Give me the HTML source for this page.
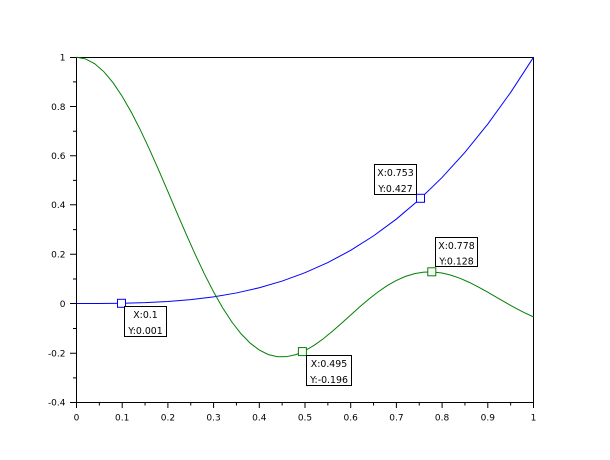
<!DOCTYPE html>
<html><head><meta charset="utf-8"><style>
html,body{margin:0;padding:0;background:#fff;}
svg{display:block;}
text{font-family:"DejaVu Sans","Liberation Sans",sans-serif;font-size:9px;fill:#000;}
.dt{font-size:9.4px;}
</style></head><body>
<svg width="610" height="460" viewBox="0 0 610 460" xmlns="http://www.w3.org/2000/svg">
<rect width="610" height="460" fill="#fff"/>
<!-- frame -->
<path d="M76.5 57.5 H533.5 V402.5 M76.5 57.5 V402.5 H533.5" fill="none" stroke="#000" stroke-width="1"/>
<!-- y ticks -->
<g stroke="#000" stroke-width="1">
<path d="M70 402.5H76.5M70 353.2H76.5M70 303.5H76.5M70 254.3H76.5M70 204.8H76.5M70 155.8H76.5M70 106.5H76.5M70 57.5H76.5"/>
<path d="M73 377.9H76.5M73 328.5H76.5M73 279H76.5M73 229.6H76.5M73 180.4H76.5M73 131.2H76.5M73 81.9H76.5"/>
<path d="M76.5 402.5V408M122.2 402.5V408M167.9 402.5V408M213.6 402.5V408M259.3 402.5V408M305 402.5V408M350.7 402.5V408M396.4 402.5V408M442.1 402.5V408M487.8 402.5V408M533.5 402.5V408"/>
<path d="M99.35 402.5V405.5M145.05 402.5V405.5M190.75 402.5V405.5M236.45 402.5V405.5M282.15 402.5V405.5M327.85 402.5V405.5M373.55 402.5V405.5M419.25 402.5V405.5M464.95 402.5V405.5M510.65 402.5V405.5"/>
</g>
<!-- y labels -->
<g text-anchor="end">
<text x="65.5" y="405.6">-0.4</text>
<text x="65.5" y="356.3">-0.2</text>
<text x="65.5" y="306.8">0</text>
<text x="65.5" y="257.5">0.2</text>
<text x="65.5" y="208.1">0.4</text>
<text x="65.5" y="159">0.6</text>
<text x="65.5" y="109.8">0.8</text>
<text x="65.5" y="60.7">1</text>
</g>
<!-- x labels -->
<g text-anchor="middle">
<text x="76.5" y="420.5">0</text>
<text x="122.2" y="420.5">0.1</text>
<text x="167.9" y="420.5">0.2</text>
<text x="213.6" y="420.5">0.3</text>
<text x="259.3" y="420.5">0.4</text>
<text x="305" y="420.5">0.5</text>
<text x="350.7" y="420.5">0.6</text>
<text x="396.4" y="420.5">0.7</text>
<text x="442.1" y="420.5">0.8</text>
<text x="487.8" y="420.5">0.9</text>
<text x="533.5" y="420.5">1</text>
</g>
<!-- blue x^3 -->
<polyline fill="none" stroke="#0000ff" stroke-width="1" points="76.5,303.5 99.35,303.47 122.2,303.25 145.05,302.67 167.9,301.53 190.75,299.65 213.6,296.85 236.45,292.94 259.3,287.74 282.15,281.07 305,272.72 327.85,262.54 350.7,250.32 373.55,235.89 396.4,219.05 419.25,199.63 442.1,177.45 464.95,152.3 487.8,124.02 510.65,92.41 533.5,57.3"/>
<!-- green sinc -->
<polyline fill="none" stroke="#008000" stroke-width="1" points="76.5,57.3 85.64,58.94 94.78,63.81 103.92,71.81 113.06,82.73 122.2,96.33 131.34,112.28 140.48,130.2 149.62,149.69 158.76,170.3 167.9,191.57 177.04,213.02 186.18,234.21 195.32,254.69 204.46,274.05 213.6,291.92 222.74,307.99 231.88,322 241.02,333.76 250.16,343.14 259.3,350.08 268.44,354.59 277.58,356.75 286.72,356.68 295.86,354.59 305,350.72 314.14,345.33 323.28,338.73 332.42,331.25 341.56,323.22 350.7,314.97 359.84,306.8 368.98,299.02 378.12,291.88 387.26,285.61 396.4,280.39 405.54,276.36 414.68,273.6 423.82,272.14 432.96,271.98 442.1,273.05 451.24,275.26 460.38,278.45 469.52,282.48 478.66,287.14 487.8,292.23 496.94,297.54 506.08,302.85 515.22,307.97 524.36,312.71 533.5,316.89"/>
<!-- markers -->
<rect x="117.5" y="299.3" width="8" height="8" fill="#fff" stroke="#0000ff" stroke-width="1"/>
<rect x="416.5" y="194.3" width="8" height="8" fill="#fff" stroke="#0000ff" stroke-width="1"/>
<rect x="298.4" y="347.6" width="8" height="8" fill="#fff" stroke="#008000" stroke-width="1"/>
<rect x="427.8" y="267.8" width="8" height="8" fill="#fff" stroke="#008000" stroke-width="1"/>
<!-- datatips -->
<g fill="#fff" stroke="#000" stroke-width="1">
<rect x="124.5" y="306.5" width="42" height="30"/>
<rect x="374.5" y="164.5" width="42" height="30"/>
<rect x="435.5" y="237.5" width="42" height="29"/>
<rect x="306.5" y="355.5" width="45" height="30"/>
</g>
<g text-anchor="middle" class="dt">
<text class="dt" x="145.5" y="318">X:0.1</text>
<text class="dt" x="145.5" y="334">Y:0.001</text>
<text class="dt" x="395.5" y="176">X:0.753</text>
<text class="dt" x="395.5" y="192">Y:0.427</text>
<text class="dt" x="456.5" y="249">X:0.778</text>
<text class="dt" x="456.5" y="264.5">Y:0.128</text>
<text class="dt" x="329" y="367">X:0.495</text>
<text class="dt" x="329" y="383">Y:-0.196</text>
</g>
</svg>
</body></html>
